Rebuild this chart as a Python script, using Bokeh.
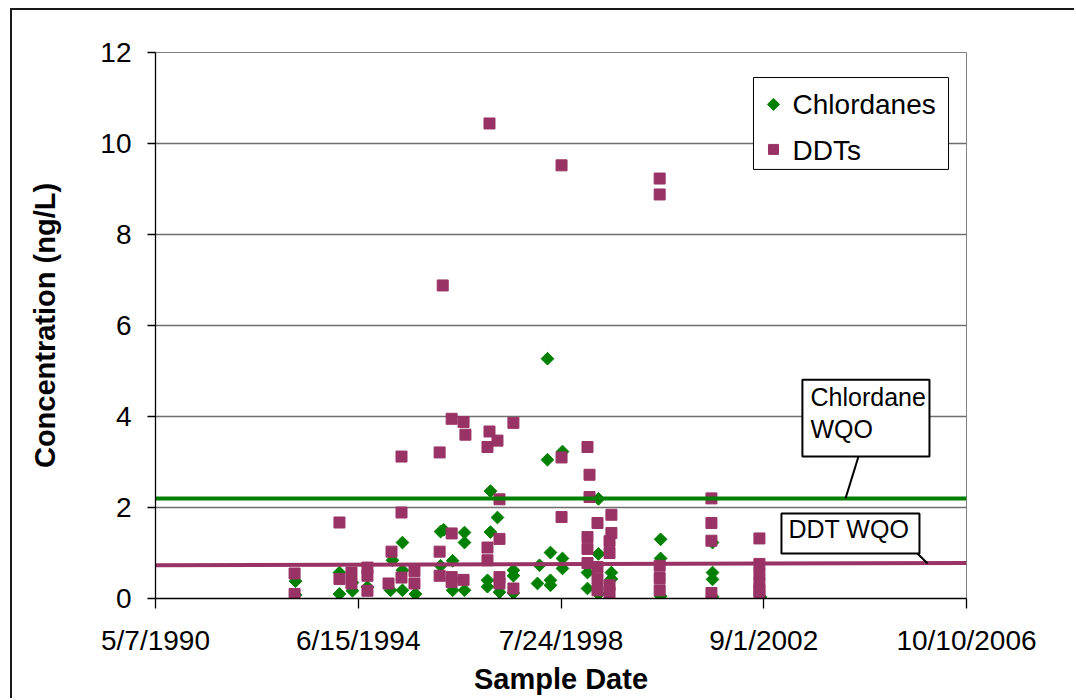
import numpy as np
import pandas as pd
from bokeh.plotting import figure
from bokeh.models import Range1d, FixedTicker
from bokeh.core.properties import value
from bokeh.embed import file_html
from bokeh.resources import INLINE

FONT = "Liberation Sans"
GREEN = "#008000"
PLUM = "#993366"

# Axis ticks
x_tick_dates = ["1990-05-07", "1994-06-15", "1998-07-24", "2002-09-01", "2006-10-10"]
x_tick_labels = ["5/7/1990", "6/15/1994", "7/24/1998", "9/1/2002", "10/10/2006"]
y_ticks = [0, 2, 4, 6, 8, 10, 12]

# Chlordanes (ng/L)
chlordane_dates = [
    "1993-03-08", "1993-03-08",
    "1994-01-27", "1994-01-27",
    "1994-05-03", "1994-05-03",
    "1994-08-22",
    "1995-02-09",
    "1995-02-23",
    "1995-05-08", "1995-05-08", "1995-05-08",
    "1995-08-12",
    "1996-02-14", "1996-02-14",
    "1996-03-08",
    "1996-05-13", "1996-05-13",
    "1996-08-09", "1996-08-09", "1996-08-09",
    "1997-01-26", "1997-01-26",
    "1997-02-17", "1997-02-17",
    "1997-04-10",
    "1997-04-25",
    "1997-08-06", "1997-08-06", "1997-08-06",
    "1998-01-31",
    "1998-02-15",
    "1998-04-15", "1998-04-15",
    "1998-05-07", "1998-05-07", "1998-05-07",
    "1998-08-04", "1998-08-04", "1998-08-04",
    "1999-02-05", "1999-02-05",
    "1999-04-27", "1999-04-27", "1999-04-27",
    "1999-08-01", "1999-08-01",
    "2000-07-30", "2000-07-30", "2000-07-30",
    "2001-08-18", "2001-08-18", "2001-08-18", "2001-08-18",
    "2002-08-08",
]
chlordane_values = [
    0.38, 0.08,
    0.57, 0.10,
    0.35, 0.17,
    0.25,
    0.18,
    0.84,
    1.23, 0.62, 0.18,
    0.10,
    1.47, 0.72,
    1.51,
    0.83, 0.18,
    1.45, 1.23, 0.18,
    0.40, 0.26,
    2.36, 1.46,
    1.78,
    0.14,
    0.62, 0.50, 0.12,
    0.33,
    0.73,
    5.27, 3.05,
    1.01, 0.40, 0.29,
    3.23, 0.88, 0.66,
    0.57, 0.22,
    2.19, 0.98, 0.10,
    0.57, 0.43,
    1.30, 0.88, 0.05,
    1.23, 0.57, 0.42, 0.04,
    0.03,
]

# DDTs (ng/L)
ddt_dates = [
    "1993-03-01", "1993-03-01",
    "1994-01-27", "1994-01-27",
    "1994-04-26", "1994-04-26",
    "1994-08-22", "1994-08-22", "1994-08-22",
    "1995-01-25",
    "1995-02-16",
    "1995-05-01", "1995-05-01", "1995-05-01",
    "1995-08-05", "1995-08-05",
    "1996-02-07", "1996-02-07", "1996-02-07",
    "1996-03-01",
    "1996-05-06", "1996-05-06", "1996-05-06", "1996-05-06",
    "1996-08-02", "1996-08-16", "1996-08-02",
    "1997-01-26", "1997-01-26", "1997-01-26",
    "1997-02-10", "1997-02-10",
    "1997-04-10",
    "1997-04-25", "1997-04-25", "1997-04-25", "1997-04-25",
    "1997-08-06", "1997-08-06",
    "1998-07-28", "1998-07-28", "1998-07-28",
    "1999-02-05", "1999-02-05", "1999-02-05", "1999-02-05",
    "1999-02-20", "1999-02-20",
    "1999-04-20", "1999-04-20", "1999-04-20", "1999-04-20",
    "1999-07-18", "1999-07-18", "1999-07-18", "1999-07-18",
    "1999-08-01", "1999-08-01",
    "2000-07-23", "2000-07-23", "2000-07-23", "2000-07-23", "2000-07-23",
    "2001-08-10", "2001-08-10", "2001-08-10", "2001-08-10",
    "2002-07-31", "2002-07-31", "2002-07-31", "2002-07-31", "2002-07-31", "2002-07-31",
]
ddt_values = [
    0.55, 0.10,
    1.67, 0.43,
    0.57, 0.33,
    0.68, 0.50, 0.17,
    0.33,
    1.03,
    3.12, 1.89, 0.46,
    0.60, 0.33,
    3.21, 1.03, 0.50,
    6.88,
    3.95, 1.43, 0.47, 0.36,
    3.88, 3.60, 0.41,
    3.33, 1.12, 0.84,
    10.44, 3.67,
    3.47,
    2.18, 1.31, 0.47, 0.33,
    3.86, 0.22,
    9.52, 3.10, 1.79,
    3.33, 1.35, 1.09, 0.78,
    2.72, 2.23,
    1.66, 0.69, 0.43, 0.18,
    1.26, 1.00, 0.29, 0.13,
    1.84, 1.44,
    9.23, 8.88, 0.72, 0.45, 0.18,
    2.20, 1.66, 1.27, 0.12,
    1.32, 0.76, 0.54, 0.33, 0.18, 0.07,
]

# Water quality objectives (ng/L)
chlordane_wqo = [2.2, 2.2]
ddt_wqo = [0.73, 0.78]

series_names = ["Chlordanes", "DDTs"]


def ms(d):
    return pd.Timestamp(d).value / 1e6


x_start, x_end = ms(x_tick_dates[0]), ms(x_tick_dates[-1])
tick_ms = [ms(d) for d in x_tick_dates]

p = figure(
    width=1064, height=690,
    x_axis_type="datetime",
    x_range=Range1d(x_start, x_end), y_range=Range1d(0, 12),
    output_backend="svg", toolbar_location=None,
    min_border_left=143, min_border_right=110,
    min_border_top=42, min_border_bottom=102,
    background_fill_color="white", border_fill_color="white",
)
p.margin = (8, 0, 0, 10)
p.styles = {"border-top": "2px solid #1a1a1a", "border-left": "2px solid #1a1a1a"}
p.outline_line_color = "#808080"
p.outline_line_width = 1

p.xaxis.ticker = FixedTicker(ticks=tick_ms)
p.xaxis.major_label_overrides = {t: lab for t, lab in zip(tick_ms, x_tick_labels)}
p.yaxis.ticker = FixedTicker(ticks=y_ticks)
p.xgrid.visible = False
p.ygrid.ticker = FixedTicker(ticks=y_ticks)
p.ygrid.grid_line_color = "#6e6e6e"
p.ygrid.grid_line_width = 1.3

p.xaxis.axis_label = "Sample Date"
p.yaxis.axis_label = "Concentration (ng/L)"
for ax in (p.xaxis[0], p.yaxis[0]):
    ax.axis_line_color = "black"
    ax.axis_line_width = 1.3
    ax.major_tick_line_color = "black"
    ax.major_tick_line_width = 1.3
    ax.major_tick_in = 0
    ax.minor_tick_line_color = None
    ax.major_label_text_font = FONT
    ax.major_label_text_font_size = "28px"
    ax.major_label_text_color = "black"
    ax.axis_label_text_font = FONT
    ax.axis_label_text_font_size = "29px"
    ax.axis_label_text_font_style = "bold"
    ax.axis_label_text_color = "black"
p.xaxis.major_tick_out = 10
p.yaxis.major_tick_out = 8
p.xaxis.major_label_standoff = 16
p.yaxis.major_label_standoff = 16
p.xaxis.axis_label_standoff = 4
p.yaxis.axis_label_standoff = 36

# Sample points (Chlordanes as diamonds, DDTs as squares)
p.scatter([ms(d) for d in chlordane_dates], chlordane_values, marker="square",
          angle=np.pi / 4, size=9, fill_color=GREEN, line_color=GREEN)
p.scatter([ms(d) for d in ddt_dates], ddt_values, marker="square", size=11,
          fill_color=PLUM, line_color=PLUM)

# Objective lines
p.line([x_start, x_end], chlordane_wqo, line_color=GREEN, line_width=4)
p.line([x_start, x_end], ddt_wqo, line_color=PLUM, line_width=4)

# Callouts
p.segment(x0=[ms("2004-08-02"), ms("2005-10-12")], y0=[3.12, 0.99],
          x1=[ms("2004-04-28"), ms("2005-12-26")], y1=[2.2, 0.77],
          line_color="black", line_width=2)
p.quad(left=[ms("2003-06-14"), ms("2003-01-10")],
       right=[ms("2006-01-09"), ms("2005-10-27")],
       top=[4.81, 1.87], bottom=[3.12, 0.99],
       fill_color="white", line_color="black", line_width=2)
p.text(x=[ms("2003-08-13"), ms("2003-08-13"), ms("2003-03-03")],
       y=[4.42, 3.72, 1.52],
       text=["Chlordane", "WQO", "DDT WQO"],
       text_font=value(FONT), text_font_size="25px", text_color="black",
       text_align="left", text_baseline="alphabetic")

# Key box with a rotated-square swatch for Chlordanes and a square for DDTs
p.quad(left=[ms("2002-06-17")], right=[ms("2006-05-30")], top=[11.45], bottom=[9.43],
       fill_color="white", line_color="black", line_width=1)
key_x = ms("2002-11-12")
p.scatter([key_x], [10.86], marker="square", angle=np.pi / 4, size=8.5,
          fill_color=GREEN, line_color=GREEN)
p.scatter([key_x], [9.87], marker="square", size=10,
          fill_color=PLUM, line_color=PLUM)
p.text(x=[ms("2003-04-02")] * 2, y=[10.86, 9.84], text=series_names,
       text_font=value(FONT), text_font_size="28px", text_color="black",
       text_align="left", text_baseline="alphabetic")

open("out.html", "w").write(file_html(p, INLINE))
